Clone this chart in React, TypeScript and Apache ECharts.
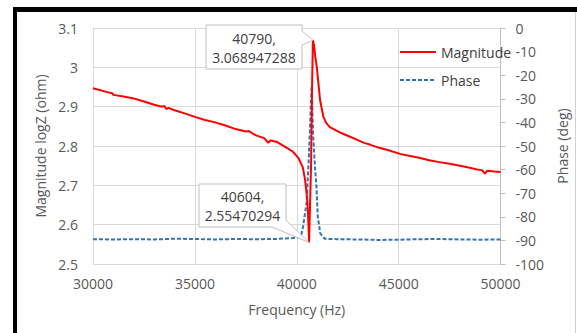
import React, { useEffect, useRef } from "react";
import * as echarts from "echarts";

const magFreq = [
  30000, 30700, 30950, 31000, 31500, 32000, 32500, 33000, 33400, 33500, 33600, 33700,
  34000, 34500, 35000, 35500, 36000, 36500, 37000, 37500, 37650, 37800, 38000, 38400,
  38600, 38700, 39000, 39450, 39800, 40072, 40300, 40407, 40500, 40537, 40570, 40604,
  40700, 40750, 40790, 40850, 40900, 40983, 41142, 41304, 41450, 41624, 42182, 42500,
  43000, 43300, 43620, 44000, 44500, 45060, 45500, 46000, 46500, 47000, 47500, 48260, 48800,
  49100, 49230, 49350, 49700, 50000,
];
const magValues = [
  2.947, 2.937, 2.934, 2.930, 2.926, 2.921, 2.913, 2.905, 2.900, 2.902, 2.894, 2.897,
  2.891, 2.883, 2.874, 2.866, 2.860, 2.852, 2.843, 2.837, 2.838, 2.833, 2.827, 2.820,
  2.808, 2.814, 2.811, 2.797, 2.786, 2.770, 2.745, 2.714, 2.670, 2.645, 2.600, 2.55470294,
  2.750, 2.950, 3.068947288, 3.055, 3.030, 3.000, 2.917, 2.874, 2.858, 2.848, 2.833, 2.826,
  2.815, 2.808, 2.803, 2.796, 2.789, 2.780, 2.775, 2.770, 2.764, 2.759, 2.755, 2.747, 2.741,
  2.738, 2.730, 2.737, 2.735, 2.734,
];

const phaseFreq = [
  30000, 31000, 32000, 33000, 34000, 35000, 36000, 37000, 38000, 39000, 39800, 40200,
  40311, 40480, 40600, 40680, 40730, 40800, 40900, 40963, 41031, 41150, 41367, 42000,
  43000, 44000, 45000, 46000, 47000, 48000, 49000, 50000,
];
const phaseValues = [
  -89.5, -89.6, -89.5, -89.6, -89.3, -89.4, -89.6, -89.4, -89.5, -89.4, -89.0, -88.5,
  -84, -74, -53, -35, -25, -45, -60, -67, -80, -87, -89.3, -89.5,
  -89.6, -89.8, -89.7, -89.5, -89.4, -89.6, -89.7, -89.6,
];

const peakPoint = [40790, 3.068947288];
const minPoint = [40604, 2.55470294];
const peakLabel = ["40790,", "3.068947288"];
const minLabel = ["40604,", "2.55470294"];

const FONT = "Open Sans";
const TXT = "#595959";
const FS = 14;

export default function App() {
  const ref = useRef<HTMLDivElement>(null);
  useEffect(() => {
    const chart = echarts.init(ref.current!, null, { renderer: "svg" });
    const magData = magFreq.map((f, i) => [f, magValues[i]]);
    const phData = phaseFreq.map((f, i) => [f, phaseValues[i]]);
    chart.setOption({
      animation: false,
      backgroundColor: "#ffffff",
      textStyle: { fontFamily: FONT },
      grid: { left: 93, right: 67, top: 28, bottom: 69 },
      legend: {
        left: 394,
        top: 40,
        orient: "vertical",
        itemWidth: 36,
        itemHeight: 14,
        itemGap: 14,
        itemStyle: { opacity: 0 },
        textStyle: { color: "#404040", fontSize: FS, fontFamily: FONT },
        data: ["Magnitude", "Phase"],
      },
      xAxis: {
        type: "value",
        min: 30000,
        max: 50000,
        interval: 5000,
        name: "Frequency (Hz)",
        nameLocation: "middle",
        nameGap: 38,
        nameTextStyle: { color: TXT, fontSize: FS, fontFamily: FONT },
        axisLine: { show: true, lineStyle: { color: "#d9d9d9" } },
        axisTick: { show: false },
        axisLabel: { color: TXT, fontSize: FS, fontFamily: FONT, margin: 12, formatter: (v: number) => String(v) },
        splitLine: { show: true, lineStyle: { color: "#d9d9d9" } },
      },
      yAxis: [
        {
          type: "value",
          min: 2.5,
          max: 3.1,
          interval: 0.1,
          name: "Magnitude logZ (ohm)",
          nameLocation: "middle",
          nameGap: 41,
          nameTextStyle: { color: TXT, fontSize: FS, fontFamily: FONT },
          axisLine: { show: false },
          axisTick: { show: false },
          axisLabel: {
            color: TXT,
            fontSize: FS,
            fontFamily: FONT,
            margin: 15,
            formatter: (v: number) => String(Number(v.toFixed(1))),
          },
          splitLine: { show: true, lineStyle: { color: "#d9d9d9" } },
        },
        {
          type: "value",
          min: -100,
          max: 0,
          interval: 10,
          position: "right",
          name: "Phase (deg)",
          nameLocation: "middle",
          nameGap: 42,
          nameRotate: 90,
          nameTextStyle: { color: TXT, fontSize: FS, fontFamily: FONT },
          axisLine: { show: true, lineStyle: { color: "#bfbfbf" } },
          axisTick: { show: true, inside: false, length: 5, lineStyle: { color: "#bfbfbf" } },
          axisLabel: { color: TXT, fontSize: FS, fontFamily: FONT, margin: 15, align: "left" },
          splitLine: { show: false },
        },
      ],
      series: [
        {
          name: "Magnitude",
          type: "line",
          yAxisIndex: 0,
          data: magData,
          symbol: "none",
          z: 3,
          itemStyle: { color: "#ff0000" },
          lineStyle: { color: "#ff0000", width: 2 },
        },
        {
          name: "Phase",
          type: "line",
          yAxisIndex: 1,
          data: phData,
          symbol: "none",
          z: 2,
          itemStyle: { color: "#2e75b6" },
          lineStyle: { color: "#2e75b6", width: 2, type: [4, 2] },
        },
      ],
    });

    const pk = chart.convertToPixel({ seriesIndex: 0 }, peakPoint) as number[];
    const mn = chart.convertToPixel({ seriesIndex: 0 }, minPoint) as number[];

    const boxStyle = { fill: "#ffffff", stroke: "#bfbfbf", lineWidth: 1 };
    const textStyle = (t: string) => ({
      text: t,
      fill: "#404040",
      font: `${FS}px "${FONT}"`,
      align: "center",
      verticalAlign: "middle",
    });

    chart.setOption({
      graphic: [
        { type: "rect", shape: { x: 13, y: 7, width: 564, height: 5 }, style: { fill: "#000" }, z: 100 },
        { type: "rect", shape: { x: 13, y: 7, width: 4, height: 330 }, style: { fill: "#000" }, z: 100 },
        { type: "line", shape: { x1: 575.5, y1: 12, x2: 575.5, y2: 333 }, style: { stroke: "#d0d0d0", lineWidth: 1 }, z: 100 },
        {
          type: "polygon",
          z: 50,
          shape: {
            points: [
              [206, 25], [302, 25], [302, 31], [pk[0], pk[1]], [302, 45], [302, 69], [206, 69],
            ],
          },
          style: boxStyle,
        },
        { type: "text", z: 51, x: 254, y: 38, style: textStyle(peakLabel[0]) },
        { type: "text", z: 51, x: 254, y: 57, style: textStyle(peakLabel[1]) },
        {
          type: "polygon",
          z: 50,
          shape: {
            points: [
              [199, 184], [286, 184], [286, 220], [mn[0], mn[1]], [272, 227], [199, 227],
            ],
          },
          style: boxStyle,
        },
        { type: "text", z: 51, x: 242.5, y: 196, style: textStyle(minLabel[0]) },
        { type: "text", z: 51, x: 242.5, y: 215, style: textStyle(minLabel[1]) },
      ],
    });

    return () => chart.dispose();
  }, []);
  return (
    <div
      ref={ref}
      style={{ position: "absolute", left: 0, top: 0, width: 577, height: 333 }}
    />
  );
}
